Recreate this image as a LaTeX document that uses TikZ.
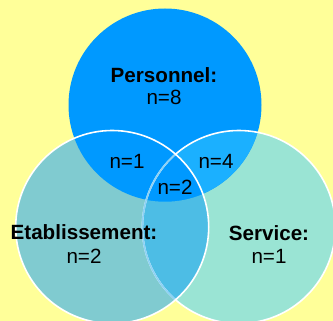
\documentclass[tikz,border=0pt]{standalone}
\usepackage{fontspec}
\setmainfont{Liberation Sans}
\definecolor{bgyellow}{HTML}{FFFF99}
\definecolor{ctop}{HTML}{0099FF}
\definecolor{cleft}{HTML}{80CBD0}
\definecolor{cright}{HTML}{9AE4D4}
\definecolor{ctopright}{HTML}{1BB0FF}
\definecolor{cleftright}{HTML}{4DBDE5}
\definecolor{cfaded}{HTML}{8ED2F5}
\begin{document}
\begin{tikzpicture}[x=1bp,y=1bp,
  lbl/.style={anchor=base,inner sep=0pt,font=\fontsize{20.7}{24}\selectfont},
  blbl/.style={lbl,font=\fontsize{20.7}{24}\selectfont\bfseries},
  rim/.style={line width=1.6bp}]
\def\rr{96.5}
\fill[bgyellow] (0,0) rectangle (333,321);
\useasboundingbox (0,0) rectangle (333,321);
\coordinate (T) at (165,216);
\coordinate (L) at (112.2,94);
\coordinate (R) at (238.9,94);
% region fills
\fill[cleft] (L) circle (\rr);
\fill[cright] (R) circle (\rr);
\begin{scope}
  \clip (L) circle (\rr);
  \fill[cleftright] (R) circle (\rr);
\end{scope}
\fill[ctop] (T) circle (\rr);
\begin{scope}
  \clip (R) circle (\rr);
  \fill[ctopright] (T) circle (\rr);
\end{scope}
\begin{scope}
  \clip (R) circle (\rr);
  \clip (L) circle (\rr);
  \fill[ctop] (T) circle (\rr);
\end{scope}
% outlines
\draw[rim,white] (R) circle (\rr);
\begin{scope}
  \clip (L) circle (\rr);
  \draw[rim,cfaded] (R) circle (\rr);
\end{scope}
\draw[rim,white] (L) circle (\rr);
% labels
\node[blbl] (pers) at (164,239) {Personnel:};
\node[lbl] (persn) at (164,217) {n=8};
\node[lbl] (tl) at (127,153) {n=1};
\node[lbl] (tr) at (216,153) {n=4};
\node[lbl] (tlr) at (175,127) {n=2};
\node[blbl] (etab) at (84,82) {Etablissement:};
\node[lbl] (etabn) at (84,58) {n=2};
\node[blbl] (serv) at (269,81) {Service:};
\node[lbl] (servn) at (269,58) {n=1};
\end{tikzpicture}
\end{document}
